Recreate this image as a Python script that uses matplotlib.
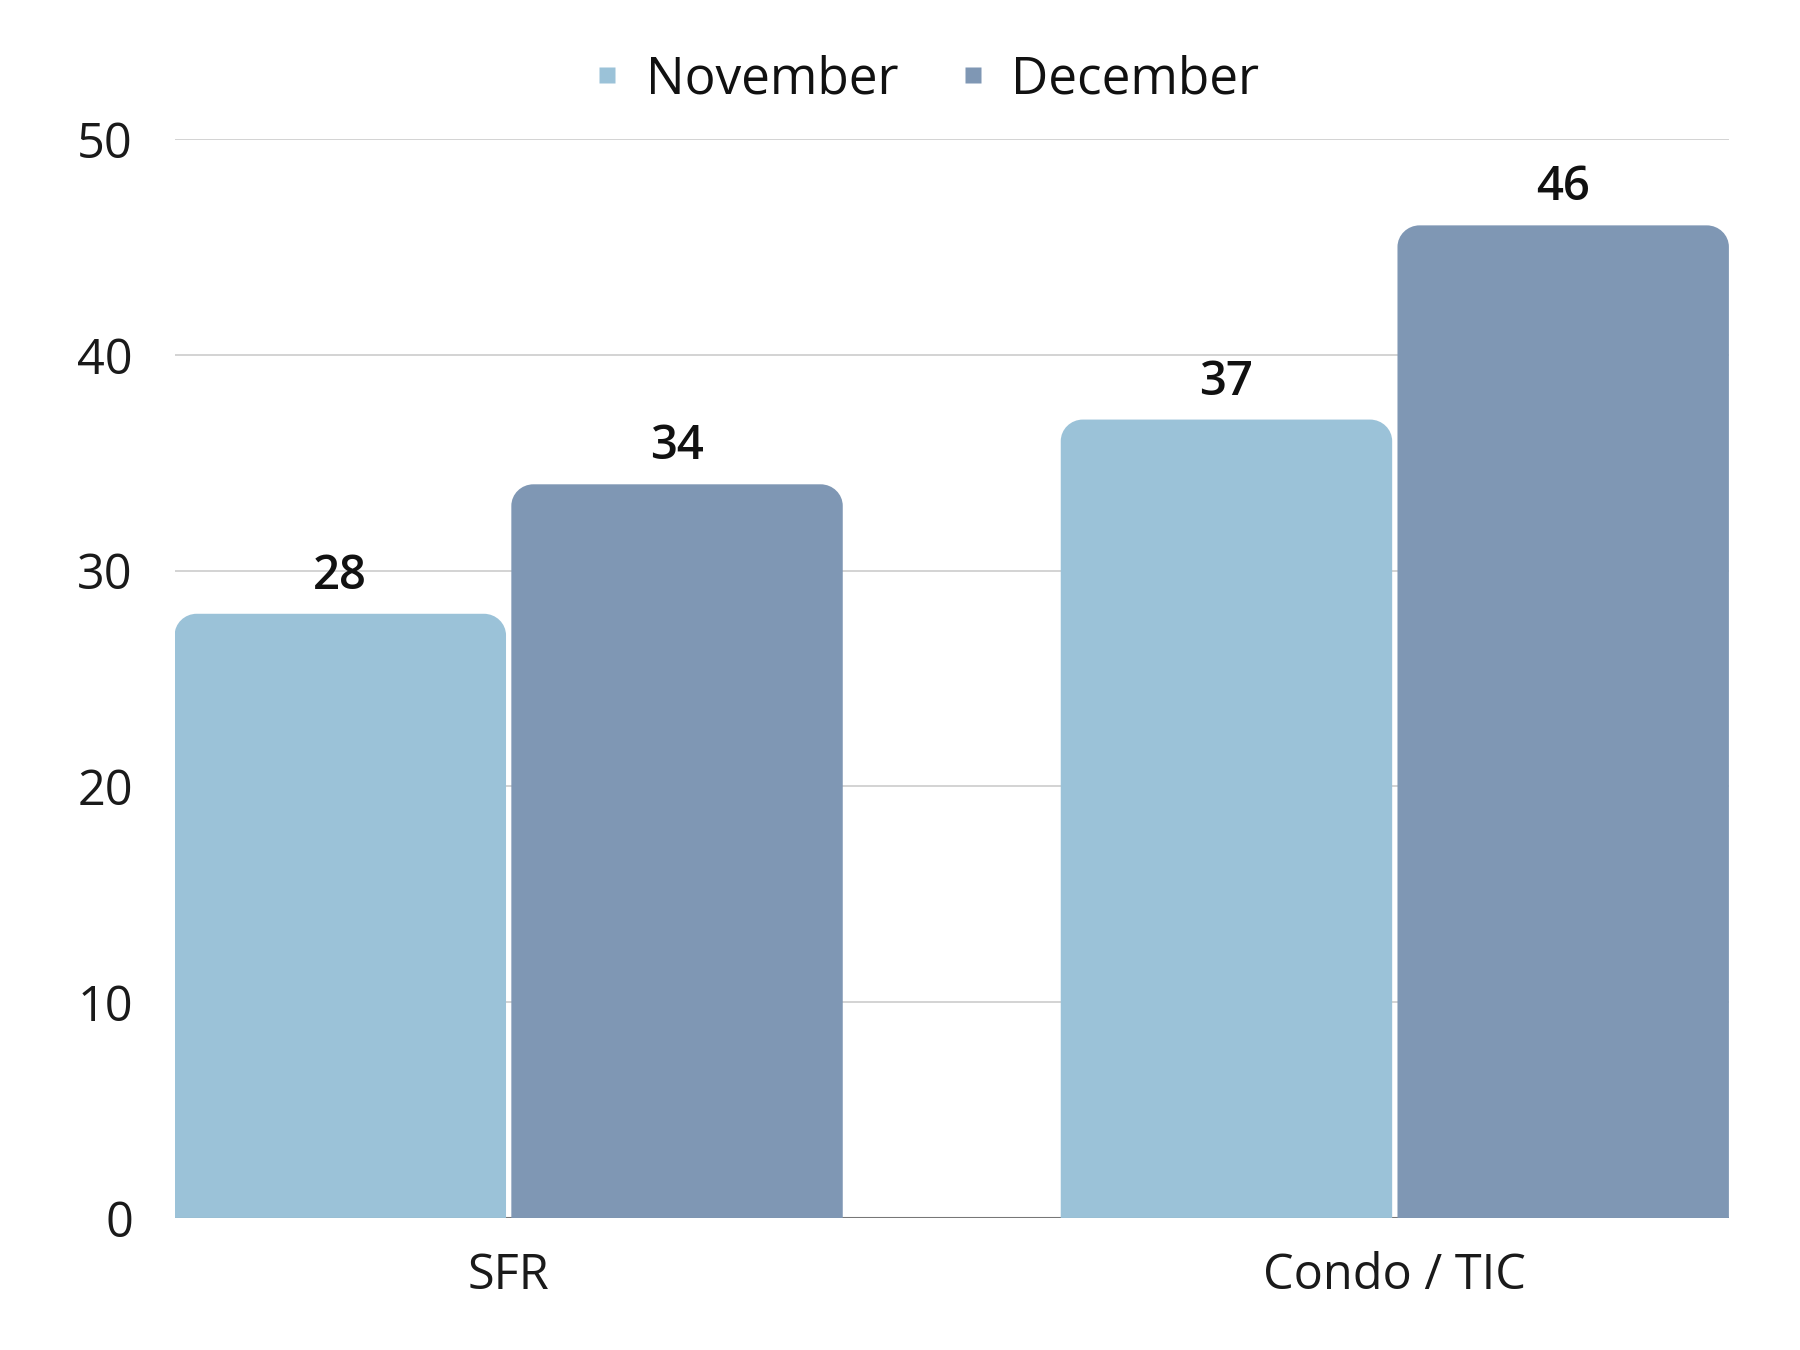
import matplotlib
matplotlib.use("Agg")
import matplotlib.pyplot as plt
from matplotlib.path import Path
from matplotlib.patches import PathPatch
from matplotlib.lines import Line2D
import numpy as np

categories = ['SFR', 'Condo / TIC']
november = [28, 37]
december = [34, 46]
series_names = ['November', 'December']
colors = ['#9BC2D8', '#7F97B4']

plt.rcParams['font.family'] = ['Open Sans', 'DejaVu Sans']

fig = plt.figure(figsize=(18, 13.5), dpi=100)
ax = fig.add_axes([0.097, 0.0978, 0.8635, 0.7992])

x = np.arange(len(categories))
w = 0.377
ax.set_xlim(-w, len(categories) - 1 + w)
ax.set_ylim(0, 50)


def rounded_top(x0, x1, h, rx, ry):
    k = 0.5523
    verts = [(x0, 0), (x0, h - ry),
             (x0, h - ry + k * ry), (x0 + rx - k * rx, h), (x0 + rx, h),
             (x1 - rx, h),
             (x1 - rx + k * rx, h), (x1, h - ry + k * ry), (x1, h - ry),
             (x1, 0), (x0, 0)]
    codes = [Path.MOVETO, Path.LINETO,
             Path.CURVE4, Path.CURVE4, Path.CURVE4,
             Path.LINETO,
             Path.CURVE4, Path.CURVE4, Path.CURVE4,
             Path.LINETO, Path.CLOSEPOLY]
    return Path(verts, codes)


ax.yaxis.grid(True, color='#CCCCCC', linewidth=1.2)
ax.set_axisbelow(True)
ax.axhline(0, color='#777777', linewidth=1.5, zorder=1)

gap = 0.003
for i, (vals, col) in enumerate(zip([november, december], colors)):
    for j, v in enumerate(vals):
        left = x[j] - w + i * w + (gap if i == 1 else 0)
        right = left + w - gap
        p = PathPatch(rounded_top(left, right, v, 0.025, 1.0),
                      facecolor=col, edgecolor='none', zorder=3)
        ax.add_patch(p)
        ax.annotate(str(v), ((left + right) / 2, v), xytext=(0, 10),
                    textcoords='offset points', ha='center', va='bottom',
                    fontsize=34, fontweight='semibold', color='#111111')

ax.set_xticks(x)
ax.set_xticklabels(categories, fontsize=35, color='#1a1a1a')
ax.set_yticks(range(0, 51, 10))
ax.tick_params(axis='y', labelsize=35, labelcolor='#1a1a1a', length=0, pad=30)
ax.tick_params(axis='x', length=0, pad=24)
for s in ax.spines.values():
    s.set_visible(False)

handles = [Line2D([], [], marker='s', linestyle='none', markersize=12,
                  markerfacecolor=c, markeredgecolor='none') for c in colors]
fig.legend(handles, series_names, loc='center', bbox_to_anchor=(0.515, 0.941),
           ncol=2, frameon=False, fontsize=37, handlelength=0.5,
           handletextpad=0.5, columnspacing=1.2, labelcolor='#111111')

fig.savefig('out.png', dpi=100, facecolor='white')
